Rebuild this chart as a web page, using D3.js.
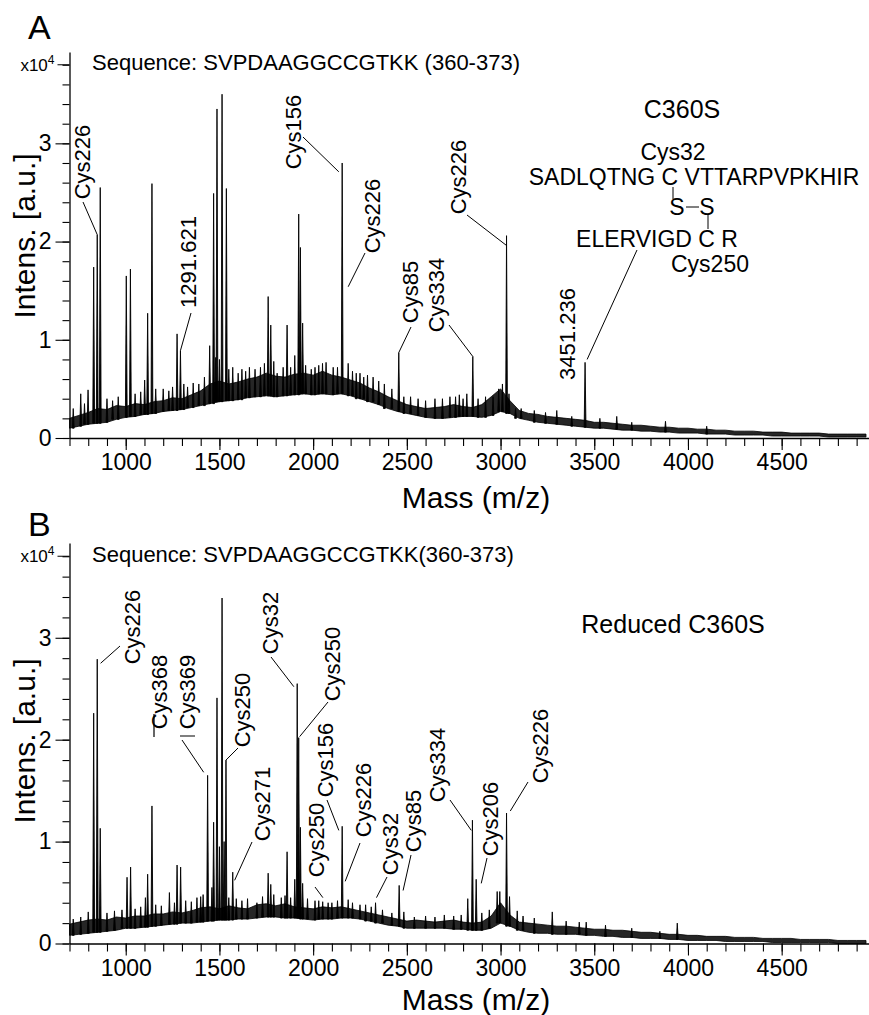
<!DOCTYPE html>
<html>
<head>
<meta charset="utf-8">
<script src="https://cdn.jsdelivr.net/npm/d3@7"></script>
<style>
  body { margin: 0; background: #fff; }
  svg { display: block; font-family: "Liberation Sans", Arial, Helvetica, sans-serif; }
</style>
</head>
<body>
<div id="chart"></div>
<script>
// --------------------------------------
// Spectrum data (intensity in units of 10^4)
// Noise band is sampled every 50 m/z from 700 to 4950
const massGrid = d3.range(700, 4951, 50);

const lowA = [
  .10,.12,.14,.15,.16,.19,.21,.22,.24,.25,
  .27,.28,.29,.31,.33,.35,.37,.38,.39,.41,
  .42,.43,.42,.43,.44,.45,.44,.45,.44,.45,
  .43,.40,.37,.34,.30,.27,.25,.23,.21,.20,
  .20,.21,.22,.22,.21,.23,.27,.25,.20,.18,
  .16,.15,.14,.13,.12,.11,.10,.10,.09,.08,
  .08,.07,.07,.06,.06,.05,.05,.05,.04,.04,
  .04,.03,.03,.03,.03,.02,.02,.02,.02,.02,
  .02,.01,.01,.01,.01,.01
];
const highA = [
  .20,.23,.26,.30,.29,.33,.32,.35,.34,.37,
  .38,.41,.40,.44,.48,.55,.58,.55,.57,.60,
  .62,.66,.63,.62,.65,.66,.64,.68,.64,.62,
  .59,.56,.51,.47,.42,.38,.34,.32,.30,.31,
  .32,.34,.32,.31,.34,.42,.50,.38,.28,.25,
  .24,.22,.21,.20,.19,.18,.16,.16,.15,.14,
  .13,.13,.12,.11,.11,.10,.10,.09,.09,.08,
  .08,.07,.07,.07,.06,.06,.06,.05,.05,.05,
  .05,.04,.04,.04,.04,.04
];
const lowB = [
  .08,.09,.10,.11,.12,.13,.15,.15,.16,.17,
  .18,.19,.20,.20,.21,.22,.23,.23,.24,.24,
  .25,.26,.26,.25,.25,.24,.23,.24,.24,.25,
  .25,.24,.22,.20,.18,.17,.15,.15,.15,.15,
  .15,.14,.14,.13,.13,.15,.20,.17,.13,.11,
  .10,.10,.09,.09,.09,.08,.08,.07,.07,.06,
  .06,.05,.05,.05,.04,.04,.03,.03,.03,.03,
  .02,.02,.02,.02,.02,.01,.01,.01,.01,.01,
  .01,.01,.00,.00,.00,.00
];
const highB = [
  .19,.21,.23,.24,.23,.26,.25,.27,.27,.29,
  .29,.31,.30,.32,.35,.36,.34,.37,.35,.34,
  .38,.39,.37,.39,.36,.35,.34,.36,.35,.36,
  .34,.32,.30,.28,.26,.24,.22,.23,.22,.21,
  .22,.23,.21,.20,.21,.27,.40,.28,.21,.20,
  .19,.18,.17,.17,.16,.15,.14,.14,.13,.13,
  .12,.11,.11,.10,.09,.09,.08,.08,.07,.07,
  .07,.06,.06,.06,.05,.05,.05,.05,.04,.04,
  .04,.04,.03,.03,.03,.03
];

// Peaks: [m/z, intensity x10^4]
const peaksA = [
  [720,.30],[760,.45],[780,.35],[799,.49],[829,1.74],[848,2.07],[864,2.55],[900,.40],
  [930,.38],[960,.42],[1003,1.65],[1025,1.72],[1050,.45],[1080,.47],[1101,.59],[1117,1.27],
  [1140,2.59],[1160,.50],[1200,.50],[1230,.48],[1250,.52],[1274,1.06],[1292,.89],[1310,.55],
  [1330,.52],[1360,.56],[1390,.55],[1420,.62],[1448,.94],[1469,2.49],[1480,.82],[1487,3.35],
  [1500,.80],[1514,3.50],[1537,2.54],[1550,.70],[1571,.72],[1600,.66],[1620,.70],[1640,.68],
  [1660,.72],[1690,.70],[1719,.72],[1740,.76],[1760,1.44],[1774,1.15],[1790,.78],[1808,.66],
  [1840,.72],[1861,1.15],[1880,.72],[1902,.84],[1923,2.28],[1932,1.94],[1944,1.17],[1960,.74],
  [1990,.70],[2010,.72],[2030,.74],[2050,.76],[2069,.77],[2107,.72],[2130,.72],[2155,2.80],
  [2187,.76],[2210,.68],[2230,.66],[2250,.66],[2270,.62],[2290,.64],[2320,.62],[2350,.58],
  [2380,.55],[2420,.50],[2457,.87],[2484,.42],[2520,.42],[2560,.40],[2600,.38],[2650,.40],
  [2690,.40],[2730,.42],[2760,.42],[2780,.44],[2800,.40],[2820,.45],[2852,.83],[2880,.40],
  [2920,.42],[2960,.42],[2990,.50],[3010,.55],[3032,2.06],[3045,.45],[3080,.30],[3110,.30],
  [3180,.28],[3240,.26],[3300,.28],[3380,.22],[3451,.77],[3530,.20],[3620,.22],[3700,.16],
  [3880,.17],[4100,.12]
];
const peaksB = [
  [720,.24],[760,.26],[800,.31],[829,2.26],[848,2.79],[864,1.13],[900,.30],[940,.32],
  [980,.33],[1007,.65],[1026,.75],[1050,.34],[1080,.36],[1105,.45],[1117,.68],[1140,1.35],
  [1160,.38],[1190,.37],[1233,.50],[1260,.40],[1274,.77],[1293,.75],[1320,.42],[1350,.41],
  [1380,.45],[1400,.46],[1413,.48],[1437,1.65],[1460,.55],[1469,1.19],[1487,2.41],[1500,.95],
  [1514,3.39],[1525,1.00],[1535,1.80],[1550,.45],[1571,.70],[1590,.44],[1620,.42],[1650,.44],
  [1700,.40],[1730,.46],[1760,.69],[1774,.58],[1790,.48],[1830,.45],[1850,.47],[1861,.90],
  [1880,.45],[1902,.63],[1915,2.55],[1923,2.02],[1932,1.14],[1944,.59],[1970,.44],[2010,.42],
  [2030,.42],[2051,.41],[2080,.40],[2100,.40],[2130,.42],[2155,1.15],[2187,.43],[2210,.40],
  [2250,.38],[2280,.38],[2310,.36],[2333,.40],[2370,.33],[2420,.30],[2459,.57],[2484,.31],
  [2540,.26],[2600,.27],[2650,.26],[2700,.28],[2750,.27],[2790,.28],[2825,.44],[2850,1.21],
  [2870,.63],[2900,.30],[2940,.33],[2982,.51],[2996,.51],[3032,1.28],[3048,.46],[3089,.32],
  [3120,.27],[3180,.25],[3276,.31],[3350,.22],[3420,.21],[3457,.21],[3560,.18],[3700,.15],
  [3850,.12],[3943,.20]
];

// Axis ticks
const massMajor = [1000, 1500, 2000, 2500, 3000, 3500, 4000, 4500];
const massMinor = d3.range(700, 4901, 100);
const intensMajor = [0, 1, 2, 3];
const intensMinor = d3.range(0, 3.81, 0.2);

// Peak annotations: text, leader end at the peak (m, v), label layout in px
// lx, ly = centre of the rotated label, sx, sy = leader start
const annA = [
  { t: "Cys226",   m: 848,  v: 2.07, lx: 82,  ly: 162, sx: 83,  sy: 202 },
  { t: "1291.621", m: 1292, v: 0.89, lx: 188, ly: 262, sx: 191, sy: 313 },
  { t: "Cys156",   m: 2137, v: 2.71, lx: 293, ly: 132, sx: 303, sy: 137 },
  { t: "Cys226",   m: 2187, v: 1.54, lx: 372, ly: 216, sx: 365, sy: 253 },
  { t: "Cys85",    m: 2457, v: 0.87, lx: 410, ly: 292, sx: 411, sy: 327 },
  { t: "Cys334",   m: 2852, v: 0.83, lx: 436, ly: 295, sx: 449, sy: 325 },
  { t: "Cys226",   m: 3032, v: 1.96, lx: 458, ly: 177, sx: 467, sy: 215 },
  { t: "3451.236", m: 3462, v: 0.80, lx: 567, ly: 334, sx: 637, sy: 250 }
];
const annB = [
  { t: "Cys226", m: 866,  v: 2.75, lx: 132, ly: 627, sx: 120, sy: 646 },
  { t: "Cys250", m: 1535, v: 1.80, lx: 242, ly: 710, sx: 238, sy: 748 },
  { t: "Cys271", m: 1581, v: 0.62, lx: 262, ly: 804, sx: 252, sy: 842 },
  { t: "Cys32",  m: 1897, v: 2.52, lx: 270, ly: 623, sx: 271, sy: 657 },
  { t: "Cys250", m: 1928, v: 2.03, lx: 332, ly: 664, sx: 328, sy: 702 },
  { t: "Cys156", m: 2137, v: 1.11, lx: 325, ly: 760, sx: 327, sy: 800 },
  { t: "Cys250", m: 2052, v: 0.45, lx: 316, ly: 840, sx: 315, sy: 887 },
  { t: "Cys226", m: 2171, v: 0.61, lx: 363, ly: 800, sx: 360, sy: 843 },
  { t: "Cys32",  m: 2338, v: 0.45, lx: 390, ly: 844, sx: 387, sy: 877 },
  { t: "Cys85",  m: 2480, v: 0.52, lx: 413, ly: 821, sx: 411, sy: 855 },
  { t: "Cys334", m: 2844, v: 1.11, lx: 437, ly: 765, sx: 450, sy: 800 },
  { t: "Cys206", m: 2897, v: 0.59, lx: 490, ly: 819, sx: 487, sy: 858 },
  { t: "Cys226", m: 3052, v: 1.30, lx: 540, ly: 746, sx: 528, sy: 782 },
  { t: "Cys368", m: 1416, v: 1.68, lx: 159, ly: 692, sx: 182, sy: 740 },
  { t: "Cys369", m: null, v: null, lx: 187, ly: 692 }
];

const panels = [
  { letter: "A", letterY: 39, top: 52, bottom: 438, low: lowA, high: highA, peaks: peaksA, ann: annA,
    seq: "Sequence: SVPDAAGGCCGTKK (360-373)", seqY: 70, title: "C360S", titleX: 682, titleY: 118,
    xTitleY: 508, yTitleY: 236 },
  { letter: "B", letterY: 536, top: 543, bottom: 943.5, low: lowB, high: highB, peaks: peaksB, ann: annB,
    seq: "Sequence: SVPDAAGGCCGTKK(360-373)", seqY: 562, title: "Reduced C360S", titleX: 673, titleY: 633,
    xTitleY: 1010, yTitleY: 741 }
];

// --------------------------------------
const width = 869, height = 1015;
const svg = d3.select("#chart").append("svg")
  .attr("width", width).attr("height", height);

const x = d3.scaleLinear().domain([700, 4966]).range([69.5, 869]);

panels.forEach(p => {
  const y = d3.scaleLinear().domain([0, 3.93]).range([p.bottom, p.top]);
  const g = svg.append("g");

  // noise band
  const band = d3.area()
    .x((d, i) => x(massGrid[i]))
    .y0((d, i) => y(p.low[i]))
    .y1((d, i) => y(p.high[i]));
  g.append("path")
    .datum(massGrid)
    .attr("d", band)
    .attr("fill", "#262626")
    .attr("stroke", "#000")
    .attr("stroke-width", 0.8)
    .attr("stroke-linejoin", "bevel");

  // peaks, each rising from the band floor at the nearest grid point
  const near = m => Math.max(0, Math.min(massGrid.length - 1, Math.round((m - 700) / 50)));
  g.append("g").selectAll("path")
    .data(p.peaks)
    .join("path")
    .attr("d", d => {
      const px = x(d[0]), yb = y(p.low[near(d[0])]), yt = y(d[1]);
      return `M${px - 0.9},${yb}L${px},${yt}L${px + 0.9},${yb}Z`;
    })
    .attr("fill", "#000")
    .attr("stroke", "#000")
    .attr("stroke-width", 0.9);

  // x axis: minor then major ticks
  const xg = g.append("g").attr("transform", `translate(0,${p.bottom})`);
  xg.call(d3.axisBottom(x).tickValues(massMinor).tickSize(8).tickSizeOuter(0).tickFormat(""));
  xg.append("g").call(d3.axisBottom(x).tickValues(massMajor).tickSize(12).tickPadding(4).tickFormat(d3.format("d")))
    .call(a => a.select(".domain").remove());
  // y axis
  const yg = g.append("g").attr("transform", "translate(69.5,0)");
  yg.call(d3.axisLeft(y).tickValues(intensMinor).tickSize(7).tickSizeOuter(0).tickFormat(""));
  yg.append("g").call(d3.axisLeft(y).tickValues(intensMajor).tickSize(14).tickPadding(4).tickFormat(d3.format("d")))
    .call(a => a.select(".domain").remove());
  yg.append("line").attr("x1", -12).attr("x2", 0).attr("y1", y(3.8)).attr("y2", y(3.8)).attr("stroke", "#000");
  yg.append("text").attr("x", -15).attr("y", y(3.8) + 6).attr("text-anchor", "end")
    .attr("fill", "#000").style("font-size", "17px")
    .call(t => { t.append("tspan").text("x10"); t.append("tspan").attr("dy", -7).style("font-size", "12px").text("4"); });

  svg.selectAll(".domain").attr("stroke", "#000").attr("stroke-width", 1.3);
  svg.selectAll(".tick line").attr("stroke", "#000").attr("stroke-width", 1.1);
  svg.selectAll(".tick text").style("font-size", "23px").attr("fill", "#000");

  // axis titles
  svg.append("text").attr("x", 476).attr("y", p.xTitleY).attr("text-anchor", "middle")
    .style("font-size", "30px").text("Mass (m/z)");
  svg.append("text").attr("transform", `translate(35,${p.yTitleY}) rotate(-90)`)
    .attr("text-anchor", "middle").style("font-size", "30px").text("Intens. [a.u.]");

  // panel letter, sequence and title
  svg.append("text").attr("x", 28).attr("y", p.letterY).style("font-size", "34px").text(p.letter);
  svg.append("text").attr("x", 92).attr("y", p.seqY).style("font-size", "22px").text(p.seq);
  svg.append("text").attr("x", p.titleX).attr("y", p.titleY).attr("text-anchor", "middle")
    .style("font-size", "25px").text(p.title);

  // annotations
  p.ann.forEach(a => {
    g.append("text")
      .attr("transform", `translate(${a.lx},${a.ly}) rotate(-90)`)
      .attr("text-anchor", "middle").attr("dy", "0.36em")
      .style("font-size", "22px").text(a.t);
    if (a.m !== null) {
      g.append("line")
        .attr("x1", a.sx).attr("y1", a.sy)
        .attr("x2", x(a.m)).attr("y2", y(a.v))
        .attr("stroke", "#000").attr("stroke-width", 1);
    }
  });
});

// Cys368 / Cys369 bracket marks in panel B
svg.append("path").attr("d", "M154,714V737M180,736H195")
  .attr("fill", "none").attr("stroke", "#000").attr("stroke-width", 1.2);

// Disulfide-bonded peptide in panel A
const st = svg.append("g").style("font-size", "23px");
st.append("text").attr("x", 673).attr("y", 160).attr("text-anchor", "middle").text("Cys32");
st.append("text").attr("x", 694).attr("y", 185).attr("text-anchor", "middle").text("SADLQTNG C VTTARPVPKHIR");
st.append("text").attr("x", 677).attr("y", 215).attr("text-anchor", "middle").text("S");
st.append("text").attr("x", 707).attr("y", 215).attr("text-anchor", "middle").text("S");
st.append("text").attr("x", 657).attr("y", 247).attr("text-anchor", "middle").text("ELERVIGD C R");
st.append("text").attr("x", 710).attr("y", 272).attr("text-anchor", "middle").text("Cys250");
st.append("path").attr("d", "M673,187V199M686,207H699M708,215V229")
  .attr("fill", "none").attr("stroke", "#000").attr("stroke-width", 1);
</script>
</body>
</html>
